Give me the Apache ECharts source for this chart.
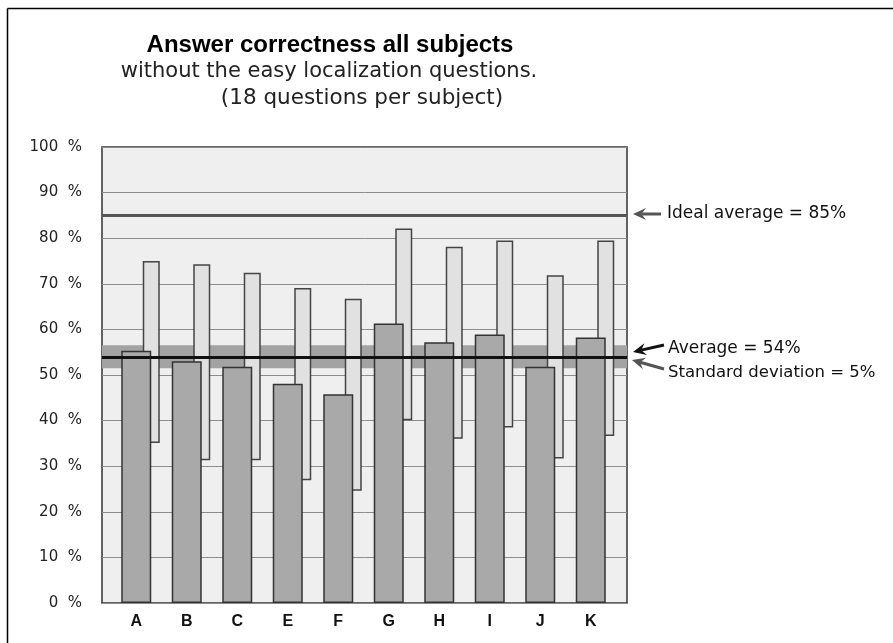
<!DOCTYPE html>
<html>
<head>
<meta charset="utf-8">
<script src="https://cdn.jsdelivr.net/npm/echarts@6/dist/echarts.min.js"></script>
<style>
  html, body { margin: 0; padding: 0; background: #fff; }
  #chart { width: 893px; height: 643px; }
</style>
</head>
<body>
<div id="chart"></div>
<script>
// subjects (there is no D in the source)
var subjects = ['A', 'B', 'C', 'E', 'F', 'G', 'H', 'I', 'J', 'K'];
// mean correctness per subject (%)
var correct = [55.3, 53.0, 51.8, 48.1, 45.8, 61.3, 57.2, 58.9, 51.8, 58.2];
// spread per subject, low and high end (%)
var rangeLow = [35.1, 31.3, 31.3, 26.9, 24.6, 40.1, 36.0, 38.5, 31.7, 36.6];
var rangeHigh = [75.0, 74.3, 72.4, 69.1, 66.7, 82.1, 78.1, 79.5, 71.9, 79.5];
// reference lines
var idealAverage = 85;
var average = 54;
var stdBand = [51.5, 56.5];

var rangeSize = rangeHigh.map(function (h, i) { return +(h - rangeLow[i]).toFixed(1); });

var myChart = echarts.init(document.getElementById('chart'));

// little arrow for the notes on the right
function arrow(x1, y1, x2, y2, color) {
  var a = Math.atan2(y2 - y1, x2 - x1);
  var c = Math.cos(a), s = Math.sin(a);
  var len = 13, w = 6;
  var bx = x2 - len * c, by = y2 - len * s;
  var nx = x2 - len * 0.65 * c, ny = y2 - len * 0.65 * s;
  return [
    { type: 'line', shape: { x1: x1, y1: y1, x2: nx, y2: ny }, style: { stroke: color, lineWidth: 3 } },
    { type: 'polygon', shape: { points: [[x2, y2], [bx + w * s, by - w * c], [nx, ny], [bx - w * s, by + w * c]] }, style: { fill: color } }
  ];
}

var graphics = [
  // frame (top and left edges only are visible)
  { type: 'line', shape: { x1: 7.5, y1: 8.5, x2: 893, y2: 8.5 }, style: { stroke: '#000', lineWidth: 1.5 } },
  { type: 'line', shape: { x1: 7.5, y1: 8.5, x2: 7.5, y2: 643 }, style: { stroke: '#000', lineWidth: 1.5 } },
  { type: 'text', x: 330, y: 45, style: { text: 'Answer correctness all subjects', font: 'bold 24px "Liberation Sans"', fill: '#000', align: 'center', verticalAlign: 'middle' } },
  { type: 'text', x: 329, y: 72, style: { text: 'without the easy localization questions.', font: '21px "DejaVu Sans"', fill: '#222', align: 'center', verticalAlign: 'middle' } },
  { type: 'text', x: 362, y: 98, style: { text: '(18 questions per subject)', font: '21.5px "DejaVu Sans"', fill: '#222', align: 'center', verticalAlign: 'middle' } },
  { type: 'text', x: 667, y: 214, style: { text: 'Ideal average = 85%', font: '17px "DejaVu Sans"', fill: '#111', verticalAlign: 'middle' } },
  { type: 'text', x: 668, y: 349, style: { text: 'Average = 54%', font: '17px "DejaVu Sans"', fill: '#111', verticalAlign: 'middle' } },
  { type: 'text', x: 668, y: 373, style: { text: 'Standard deviation = 5%', font: '16.5px "DejaVu Sans"', fill: '#111', verticalAlign: 'middle' } }
];
graphics = graphics
  .concat(arrow(661, 214, 633, 214, '#555'))
  .concat(arrow(664, 345, 633, 352, '#111'))
  .concat(arrow(664, 369, 632, 360, '#555'));

var yAxisBase = { min: 0, max: 100, interval: 10 };

myChart.setOption({
  animation: false,
  graphic: graphics,
  grid: [
    { left: 102, top: 147, width: 525, height: 456, show: true, backgroundColor: '#efefef', borderColor: '#333', borderWidth: 1.5 },
    { left: 111, top: 147, width: 505, height: 456 },
    { left: 126, top: 147, width: 505, height: 456 }
  ],
  xAxis: [
    { gridIndex: 0, type: 'value', min: 0, max: 1, show: false },
    {
      gridIndex: 1, type: 'category', data: subjects,
      axisLine: { show: false }, axisTick: { show: false },
      axisLabel: { margin: 11, color: '#111', fontFamily: 'Liberation Sans', fontWeight: 'bold', fontSize: 16 }
    },
    { gridIndex: 2, type: 'category', data: subjects, show: false }
  ],
  yAxis: [
    Object.assign({}, yAxisBase, {
      gridIndex: 0, type: 'value',
      axisLine: { show: false }, axisTick: { show: false },
      axisLabel: { margin: 20, color: '#222', fontFamily: 'DejaVu Sans', fontSize: 15, formatter: '{value}  %' },
      splitLine: { lineStyle: { color: '#8c8c8c', width: 1 } }
    }),
    Object.assign({}, yAxisBase, { gridIndex: 1, type: 'value', show: false }),
    Object.assign({}, yAxisBase, { gridIndex: 2, type: 'value', show: false })
  ],
  series: [
    {
      // reference lines and the deviation band
      type: 'line', xAxisIndex: 0, yAxisIndex: 0, data: [], z: 1, silent: true,
      markArea: {
        silent: true,
        itemStyle: { color: '#a3a3a3' },
        data: [[{ yAxis: stdBand[0] }, { yAxis: stdBand[1] }]]
      },
      markLine: {
        silent: true, symbol: 'none', label: { show: false },
        data: [
          { yAxis: idealAverage, lineStyle: { color: '#555', width: 3, type: 'solid' } },
          { yAxis: average, lineStyle: { color: '#111', width: 3, type: 'solid' } }
        ]
      }
    },
    {
      type: 'bar', xAxisIndex: 2, yAxisIndex: 2, stack: 'range', barWidth: 17, silent: true,
      data: rangeLow, itemStyle: { color: 'transparent' }
    },
    {
      type: 'bar', xAxisIndex: 2, yAxisIndex: 2, stack: 'range', barWidth: 17, z: 2,
      data: rangeSize, itemStyle: { color: '#e1e1e1', borderColor: '#444', borderWidth: 1.5 }
    },
    {
      type: 'bar', xAxisIndex: 1, yAxisIndex: 1, barWidth: 30, z: 3,
      data: correct, itemStyle: { color: '#a9a9a9', borderColor: '#333', borderWidth: 1.5 }
    }
  ]
});
</script>
</body>
</html>
